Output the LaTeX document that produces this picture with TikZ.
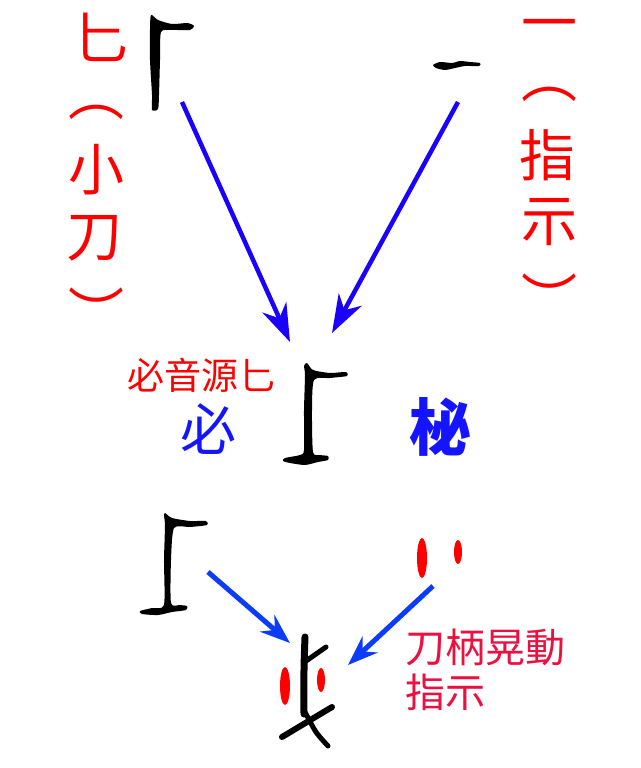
\documentclass[tikz,border=0pt]{standalone}
\usepackage{fontspec}
\newfontfamily\cjk{Noto Sans CJK TC}
\usetikzlibrary{arrows.meta}
\definecolor{arrowblue}{RGB}{25,0,255}
\definecolor{arrowblueb}{RGB}{10,60,250}
\definecolor{textblue}{RGB}{20,20,255}
\definecolor{notered}{RGB}{236,16,64}
\tikzset{
  big/.style={text=red, inner sep=0pt, font=\cjk\fontsize{56}{56}\selectfont},
  ink/.style={fill=black},
  dot/.style={fill=red},
  brush/.style={draw=black, line cap=round, line join=round},
  bigarrow/.style={draw=arrowblue, line width=4.5pt, -{Stealth[length=38pt, width=26pt, inset=12pt]}},
  smallarrow/.style={draw=arrowblueb, line width=5pt, -{Stealth[length=30pt, width=22pt, inset=10pt]}}
}
\begin{document}
\begin{tikzpicture}[x=1pt, y=-1pt]
      \useasboundingbox (0,0) rectangle (640,768);
      \node[big] (bi) at (100,37) {匕};
      \node[big] (lpa) at (96,112) {︵};
      \node[big] (xiao) at (96,170) {小};
      \node[big] (dao) at (94,238) {刀};
      \node[big] (rpa) at (96,311) {︶};
      \node[big] (yi) at (549,31) {一};
      \node[big] (lpb) at (549,94) {︵};
      \node[big] (zhi) at (547,155) {指};
      \node[big] (shi) at (549,222) {示};
      \node[big] (rpb) at (549,297) {︶};

      \fill[ink] plot[smooth cycle, tension=.4] coordinates {(151,15) (158,20) (172,24) (188,23) (194,26) (190,30) (172,30) (161,32) (160,60) (159,95) (158,109) (152,110) (152,95) (150,60) (150,30)};
      \fill[ink] plot[smooth cycle, tension=.4] coordinates {(433,65) (440,62) (452,63) (460,61) (470,62) (480,63) (479,66) (465,66) (455,68) (445,70) (436,68)};
      \fill[ink] plot[smooth cycle, tension=.4] coordinates {(307,363) (313,370) (330,373) (346,372) (347,376) (330,378) (314,380) (312,410) (313,452) (320,455) (328,456) (328,460) (318,462) (305,465) (290,463) (283,461) (285,458) (300,455) (304,450) (304,410) (305,375) (304,366)};
      \fill[ink] plot[smooth cycle, tension=.4] coordinates {(165,513) (172,518) (190,521) (206,521) (207,525) (190,527) (174,528) (171,560) (171,603) (180,605) (187,606) (186,610) (172,612) (158,615) (142,614) (140,611) (152,608) (164,605) (164,560) (165,525) (164,516)};

      \draw[brush, line width=7pt] plot[smooth] coordinates {(305,637) (304,670) (304,714)};
      \draw[brush, line width=5pt] (306,661) -- (326,647);
      \draw[brush, line width=6pt] (282,737) -- (332,707);
      \draw[brush, line width=5pt] plot[smooth] coordinates {(305,712) (316,732) (328,746)};

      \fill[dot] (422,558) ellipse [x radius=5, y radius=20];
      \fill[dot] (458,552) ellipse [x radius=4, y radius=12];
      \fill[dot] (285,686) ellipse [x radius=5, y radius=19];
      \fill[dot] (321,680) ellipse [x radius=4, y radius=12];

      \node[text=red, inner sep=0pt, font=\cjk\fontsize{37}{37}\selectfont] (src) at (201,375) {必音源匕};
      \node[text=textblue, inner sep=0pt, font=\cjk\fontsize{56}{56}\selectfont] (bi2) at (208,429) {必};
      \node[text=textblue, inner sep=0pt, font=\cjk\bfseries\fontsize{62}{62}\selectfont] (bi3) at (440,427) {柲};
      \node[text=notered, inner sep=0pt, anchor=west, font=\cjk\fontsize{40}{40}\selectfont] (note1) at (405,647) {刀柄晃動};
      \node[text=notered, inner sep=0pt, anchor=west, font=\cjk\fontsize{40}{40}\selectfont] (note2) at (405,692) {指示};

      \coordinate (s1) at (182,102);
      \coordinate (t1) at (290,342);
      \coordinate (s2) at (458,102);
      \coordinate (t2) at (332,333);
      \coordinate (s3) at (208,572);
      \coordinate (t3) at (290,643);
      \coordinate (s4) at (433,586);
      \coordinate (t4) at (348,665);
      \draw[bigarrow](s1) -- (t1);
      \draw[bigarrow](s2) -- (t2);
      \draw[smallarrow](s3) -- (t3);
      \draw[smallarrow](s4) -- (t4);

    \end{tikzpicture}
\end{document}
